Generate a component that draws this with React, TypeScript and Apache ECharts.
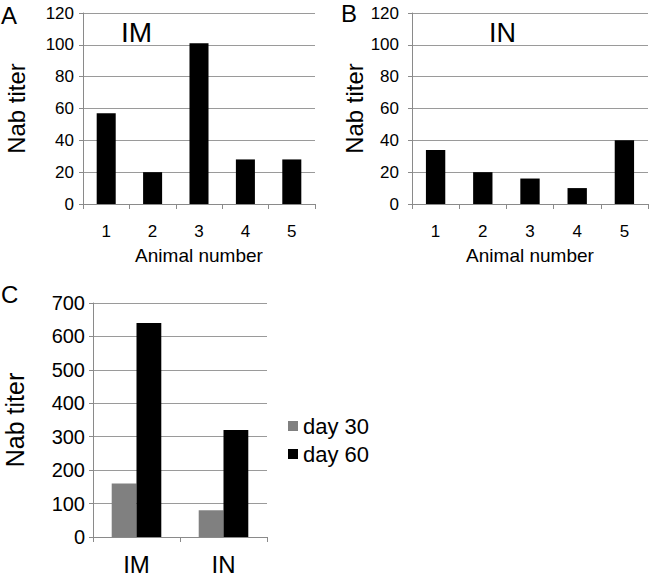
import React, { useEffect, useRef } from "react";
import * as echarts from "echarts";

const animalNumbers = ["1", "2", "3", "4", "5"];
const imTiters = [57, 20, 101, 28, 28];
const inTiters = [34, 20, 16, 10, 40];
const routeCategories = ["IM", "IN"];
const day30Titers = [160, 80];
const day60Titers = [640, 320];

const FONT = "Liberation Sans, Arial, Helvetica, sans-serif";
const GRID_COLOR = "#9a9a9a";
const AXIS_COLOR = "#8a8a8a";

function catAxis(gridIndex: number, data: string[], fontSize: number, margin: number, name?: string, nameGap?: number) {
  return {
    type: "category",
    gridIndex,
    data,
    boundaryGap: true,
    axisLine: { show: true, lineStyle: { color: AXIS_COLOR, width: 1 } },
    axisTick: { show: true, length: 5, lineStyle: { color: AXIS_COLOR } },
    axisLabel: { fontSize, color: "#000", fontFamily: FONT, margin },
    splitLine: { show: false },
    name: name || "",
    nameLocation: "middle",
    nameGap: nameGap || 0,
    nameTextStyle: { fontSize: 19, color: "#000", fontFamily: FONT },
  };
}

function valAxis(gridIndex: number, max: number, interval: number, fontSize: number, margin: number, nameGap: number, nameSize: number) {
  return {
    type: "value",
    gridIndex,
    min: 0,
    max,
    interval,
    axisLine: { show: true, lineStyle: { color: AXIS_COLOR, width: 1 } },
    axisTick: { show: true, length: 4, lineStyle: { color: AXIS_COLOR } },
    axisLabel: { fontSize, color: "#000", fontFamily: FONT, margin },
    splitLine: { show: true, lineStyle: { color: GRID_COLOR, width: 1 } },
    name: "Nab titer",
    nameLocation: "middle",
    nameRotate: 90,
    nameGap,
    nameTextStyle: { fontSize: nameSize, color: "#000", fontFamily: FONT },
  };
}

export default function App() {
  const ref = useRef<HTMLDivElement>(null);
  useEffect(() => {
    if (!ref.current) return;
    const chart = echarts.init(ref.current, null, { renderer: "svg" });
    const panelLabel = (text: string, x: number, y: number, size: number) => ({
      type: "text",
      left: x,
      top: y,
      style: { text, fontSize: size, fill: "#000", fontFamily: FONT },
    });
    chart.setOption({
      animation: false,
      backgroundColor: "#fff",
      textStyle: { fontFamily: FONT },
      grid: [
        { left: 83, top: 13, width: 232, height: 191, outerBoundsMode: "none", containLabel: false },
        { left: 412, top: 13, width: 236, height: 191, outerBoundsMode: "none", containLabel: false },
        { left: 93, top: 303, width: 174, height: 234, outerBoundsMode: "none", containLabel: false },
      ],
      xAxis: [
        catAxis(0, animalNumbers, 17, 19, "Animal number", 42),
        catAxis(1, animalNumbers, 17, 19, "Animal number", 42),
        catAxis(2, routeCategories, 24, 15),
      ],
      yAxis: [
        valAxis(0, 120, 20, 17, 9, 55, 24),
        valAxis(1, 120, 20, 17, 13, 46, 24),
        valAxis(2, 700, 100, 20, 8, 66, 25),
      ],
      legend: {
        data: ["day 30", "day 60"],
        orient: "vertical",
        left: 288,
        top: 415,
        padding: 0,
        itemWidth: 10,
        itemHeight: 10,
        itemGap: 6,
        icon: "rect",
        textStyle: { fontSize: 22, color: "#000", fontFamily: FONT },
      },
      graphic: [
        panelLabel("A", 1, 3, 24),
        panelLabel("B", 341, 1, 24),
        panelLabel("C", 1, 282, 24),
        panelLabel("IM", 121, 18, 28),
        panelLabel("IN", 489, 19, 27),
      ],
      series: [
        { type: "bar", xAxisIndex: 0, yAxisIndex: 0, data: imTiters, barCategoryGap: "59%", itemStyle: { color: "#000" } },
        { type: "bar", xAxisIndex: 1, yAxisIndex: 1, data: inTiters, barCategoryGap: "59%", itemStyle: { color: "#000" } },
        { type: "bar", name: "day 30", xAxisIndex: 2, yAxisIndex: 2, data: day30Titers, barGap: "0%", barCategoryGap: "43%", itemStyle: { color: "#808080" } },
        { type: "bar", name: "day 60", xAxisIndex: 2, yAxisIndex: 2, data: day60Titers, barGap: "0%", barCategoryGap: "43%", itemStyle: { color: "#000" } },
      ],
    });
    return () => chart.dispose();
  }, []);
  return <div ref={ref} style={{ position: "fixed", left: 0, top: 0, width: 650, height: 578 }} />;
}
